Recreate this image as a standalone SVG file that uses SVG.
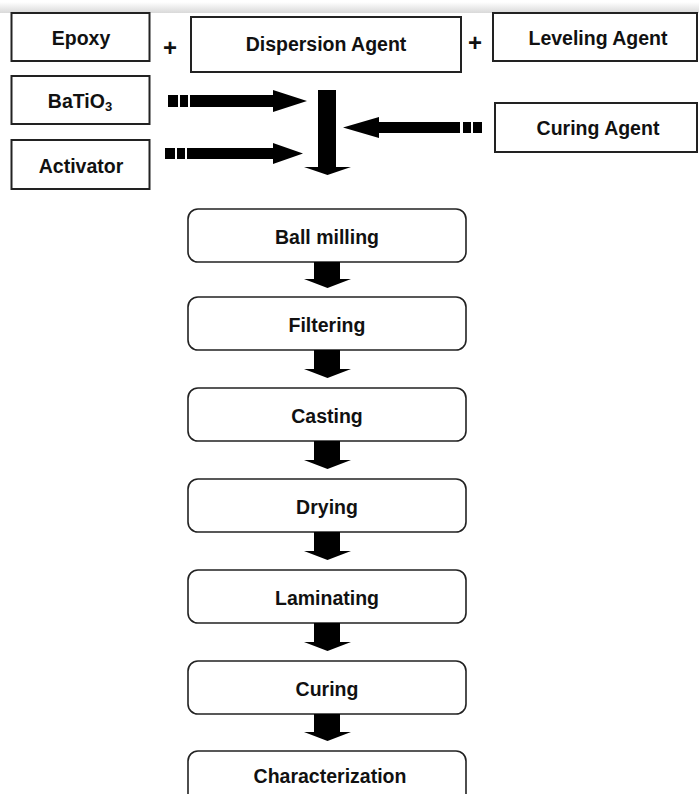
<svg xmlns="http://www.w3.org/2000/svg" width="699" height="794" viewBox="0 0 699 794">
  <defs>
    <linearGradient id="topShade" x1="0" y1="0" x2="0" y2="1">
      <stop offset="0" stop-color="#ffffff"/>
      <stop offset="1" stop-color="#d9d9d9"/>
    </linearGradient>
    <style>
      .box { fill: #ffffff; stroke: #222222; stroke-width: 2; }
      .step { fill: #ffffff; stroke: #222222; stroke-width: 1.6; }
      .lbl { font-family: "Liberation Sans", Arial, sans-serif; font-size: 19.5px; font-weight: bold; fill: #111111; text-anchor: middle; }
      .plus { font-family: "Liberation Sans", Arial, sans-serif; font-size: 24px; font-weight: bold; fill: #111111; text-anchor: middle; }
      .arr { fill: #000000; stroke: none; }
    </style>
  </defs>
  <rect x="0" y="0" width="699" height="794" fill="#ffffff"/>
  <rect x="0" y="2" width="699" height="11" fill="url(#topShade)"/>

  <g id="epoxy">
    <rect class="box" x="11.5" y="13" width="138" height="48"/>
    <text class="lbl" x="81" y="45">Epoxy</text>
  </g>
  <g id="plus1"><text class="plus" x="170" y="56">+</text></g>
  <g id="dispersion">
    <rect class="box" x="191" y="17" width="270" height="55"/>
    <text class="lbl" x="326" y="50.5">Dispersion Agent</text>
  </g>
  <g id="plus2"><text class="plus" x="475" y="51">+</text></g>
  <g id="leveling">
    <rect class="box" x="493" y="13" width="204" height="48"/>
    <text class="lbl" x="598" y="45">Leveling Agent</text>
  </g>
  <g id="batio3">
    <rect class="box" x="11.5" y="76" width="138" height="48"/>
    <text class="lbl" x="80" y="108">BaTiO<tspan font-size="13" dy="3">3</tspan></text>
  </g>
  <g id="activator">
    <rect class="box" x="11.5" y="140" width="138" height="49"/>
    <text class="lbl" x="81" y="173">Activator</text>
  </g>
  <g id="curing-agent">
    <rect class="box" x="495" y="103" width="202" height="49"/>
    <text class="lbl" x="598" y="135">Curing Agent</text>
  </g>

  <g id="ball-milling">
    <rect class="step" x="188" y="209" width="278" height="53" rx="10"/>
    <text class="lbl" x="327" y="244">Ball milling</text>
  </g>
  <g id="filtering">
    <rect class="step" x="188" y="297" width="278" height="53" rx="10"/>
    <text class="lbl" x="327" y="332">Filtering</text>
  </g>
  <g id="casting">
    <rect class="step" x="188" y="388" width="278" height="53" rx="10"/>
    <text class="lbl" x="327" y="423">Casting</text>
  </g>
  <g id="drying">
    <rect class="step" x="188" y="479" width="278" height="53" rx="10"/>
    <text class="lbl" x="327" y="514">Drying</text>
  </g>
  <g id="laminating">
    <rect class="step" x="188" y="570" width="278" height="53" rx="10"/>
    <text class="lbl" x="327" y="605">Laminating</text>
  </g>
  <g id="curing">
    <rect class="step" x="188" y="661" width="278" height="53" rx="10"/>
    <text class="lbl" x="327" y="696">Curing</text>
  </g>
  <g id="characterization">
    <rect class="step" x="188" y="751" width="278" height="53" rx="10"/>
    <text class="lbl" x="330" y="783">Characterization</text>
  </g>

  <g id="connectors">
    <!-- BaTiO3 feed -->
    <rect class="arr" x="168" y="95" width="10" height="12"/>
    <rect class="arr" x="180" y="95" width="8" height="12"/>
    <polygon class="arr" points="190,95 273,95 273,90 307,101 273,112 273,107 190,107"/>
    <!-- Activator feed -->
    <rect class="arr" x="165" y="148" width="10" height="11"/>
    <rect class="arr" x="177" y="148" width="8" height="11"/>
    <polygon class="arr" points="187,148 273,148 273,143 303,153.5 273,164 273,159 187,159"/>
    <!-- Curing agent feed -->
    <rect class="arr" x="473" y="122" width="9" height="11"/>
    <rect class="arr" x="463" y="122" width="8" height="11"/>
    <polygon class="arr" points="460,122 379,122 379,117 343,127.5 379,138 379,133 460,133"/>
    <!-- Merge down arrow -->
    <polygon class="arr" points="318,90 336,90 336,167 351,167 327.5,175 304,167 318,167"/>
    <!-- Process arrows -->
    <polygon class="arr" points="314,262 340,262 340,279 351,279 327.5,288 304,279 314,279"/>
    <polygon class="arr" points="314,350 340,350 340,369 351,369 327.5,378 304,369 314,369"/>
    <polygon class="arr" points="314,441 340,441 340,460 351,460 327.5,469 304,460 314,460"/>
    <polygon class="arr" points="314,532 340,532 340,551 351,551 327.5,560 304,551 314,551"/>
    <polygon class="arr" points="314,623 340,623 340,642 351,642 327.5,651 304,642 314,642"/>
    <polygon class="arr" points="314,714 340,714 340,732 351,732 327.5,741 304,732 314,732"/>
  </g>
</svg>
